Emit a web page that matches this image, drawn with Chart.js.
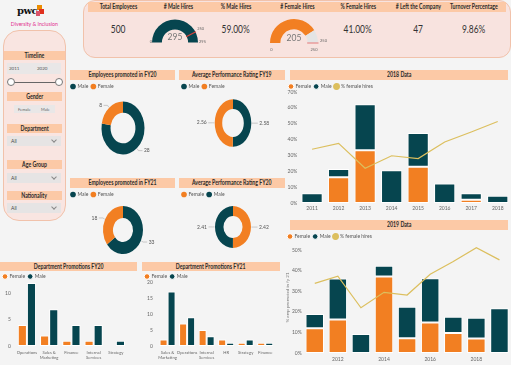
<!DOCTYPE html>
<html><head><meta charset="utf-8">
<script src="https://cdn.jsdelivr.net/npm/chart.js@4.4.0/dist/chart.umd.min.js"></script>
<style>
body{margin:0;width:511px;height:365px;background:#f4f4f4;position:relative;overflow:hidden;font-family:Lato,"Liberation Sans",Arial,sans-serif;color:#333}
.a{position:absolute}
.n{display:inline-block;transform:scaleX(0.8);transform-origin:center}
.hdr{position:absolute;background:#fcc9a6;text-align:center;font-weight:bold;font-size:6.5px;color:#2a2a2a;white-space:nowrap;overflow:hidden}
.khdr{position:absolute;top:2px;height:10px;line-height:10px;width:70px;text-align:center;font-size:6.5px;font-weight:bold;color:#2a2a2a;white-space:nowrap}
.kval{position:absolute;top:23px;width:70px;text-align:center;font-size:10.5px;color:#333}
.dd{position:absolute;left:7px;width:54px;height:10px;background:#e6e4e4;font-size:5px;line-height:10px;color:#444}
.dd span{position:absolute;left:4px}
.dd i{position:absolute;right:5px;top:2px;width:3px;height:3px;border-right:0.7px solid #888;border-bottom:0.7px solid #888;transform:rotate(45deg)}
.box{position:absolute}
</style></head>
<body>
<!-- logo -->
<div class="a" style="left:17px;top:5px;font-family:'DejaVu Serif','Liberation Serif',serif;font-weight:bold;font-size:10px;color:#111;letter-spacing:-0.5px">pwc</div>
<div class="a" style="left:37px;top:5px;width:5px;height:5px;background:#eb8c00"></div>
<div class="a" style="left:39px;top:9px;width:5px;height:5px;background:#e0301e"></div>
<div class="a" style="left:36px;top:11px;width:4px;height:5px;background:#db536a"></div>
<div class="a" style="left:3px;top:20px;width:62px;text-align:center;font-size:6.5px;color:#e2308f;white-space:nowrap"><span class="n">Diversity &amp; Inclusion</span></div>

<!-- filter panel -->
<div class="a" style="left:3px;top:30px;width:61px;height:189px;background:#f9e5e1;border:1px solid #f1c2ab;border-radius:16px"></div>
<div class="hdr" style="left:4px;top:51px;width:61px;height:9px;line-height:9px"><span class="n">Timeline</span></div>
<div class="a" style="left:7px;top:63px;width:54px;height:11px;background:#e9e7e7"></div>
<div class="a" style="left:9px;top:66px;font-size:4.5px;color:#555">2011</div>
<div class="a" style="left:37px;top:66px;font-size:4.5px;color:#555">2020</div>
<div class="a" style="left:11px;top:81.5px;width:48px;height:1px;background:#666"></div>
<div class="a" style="left:7px;top:78px;width:6px;height:6px;border-radius:50%;background:#fff;border:0.8px solid #777"></div>
<div class="a" style="left:55px;top:78px;width:6px;height:6px;border-radius:50%;background:#fff;border:0.8px solid #777"></div>
<div class="hdr" style="left:7px;top:92px;width:55px;height:9px;line-height:9px"><span class="n">Gender</span></div>
<div class="a" style="left:14px;top:105px;width:41px;height:8px;background:#e9e7e7"></div>
<div class="a" style="left:18px;top:107px;font-size:4px;color:#666">Female</div>
<div class="a" style="left:41px;top:107px;font-size:4px;color:#666">Male</div>
<div class="hdr" style="left:7px;top:124px;width:55px;height:9px;line-height:9px"><span class="n">Department</span></div>
<div class="dd" style="top:136px"><span>All</span><i></i></div>
<div class="hdr" style="left:7px;top:160px;width:55px;height:9px;line-height:9px"><span class="n">Age Group</span></div>
<div class="dd" style="top:173px"><span>All</span><i></i></div>
<div class="hdr" style="left:7px;top:191px;width:55px;height:9px;line-height:9px"><span class="n">Nationality</span></div>
<div class="dd" style="top:203px"><span>All</span><i></i></div>

<!-- KPI panel -->
<div class="a" style="left:83px;top:0px;width:426px;height:56px;background:#f8e3df;border:1px solid #f1c2ab;border-radius:12px"></div>
<div class="a" style="left:88px;top:2px;width:418px;height:10px;background:#fcc9a6"></div>
<div id="kpi"></div>
<div class="box" style="left:139.5px;top:8.5px;width:70px;height:44px"><canvas id="gM"></canvas></div>
<div class="box" style="left:259px;top:9px;width:70px;height:44px"><canvas id="gF"></canvas></div>

<!-- donut panels -->
<div class="hdr" style="left:70px;top:70px;width:105px;height:10px;line-height:10px"><span class="n">Employees promoted in FY20</span></div>
<div class="hdr" style="left:179px;top:70px;width:106px;height:10px;line-height:10px"><span class="n">Average Performance Rating FY19</span></div>
<div class="hdr" style="left:70px;top:178px;width:105px;height:10px;line-height:10px"><span class="n">Employees promoted in FY21</span></div>
<div class="hdr" style="left:179px;top:178px;width:106px;height:10px;line-height:10px"><span class="n">Average Performance Rating FY20</span></div>
<div class="box" style="left:68px;top:81px;width:110px;height:92px"><canvas id="d1"></canvas></div>
<div class="box" style="left:179px;top:81px;width:108px;height:92px"><canvas id="d2"></canvas></div>
<div class="box" style="left:68px;top:189px;width:110px;height:75px"><canvas id="d3"></canvas></div>
<div class="box" style="left:179px;top:189px;width:108px;height:75px"><canvas id="d4"></canvas></div>

<!-- year charts -->
<div class="hdr" style="left:290px;top:70px;width:218px;height:10px;line-height:10px"><span class="n">2018 Data</span></div>
<div class="box" style="left:286px;top:81px;width:225px;height:133px"><canvas id="b18"></canvas></div>
<div class="hdr" style="left:290px;top:220px;width:218px;height:10px;line-height:10px"><span class="n">2019 Data</span></div>
<div class="box" style="left:285px;top:231px;width:226px;height:134px"><canvas id="b19"></canvas></div>

<!-- dept charts -->
<div class="hdr" style="left:0px;top:262px;width:137px;height:9px;line-height:9px"><span class="n">Department Promotions FY20</span></div>
<div class="hdr" style="left:142px;top:262px;width:138px;height:9px;line-height:9px"><span class="n">Department Promotions FY21</span></div>
<div class="box" style="left:0px;top:271px;width:143px;height:94px"><canvas id="p20"></canvas></div>
<div class="box" style="left:142px;top:271px;width:143px;height:94px"><canvas id="p21"></canvas></div>

<script>
// ---------------- DATA ----------------
const kpiHeaders = ['Total Employees','# Male Hires','% Male Hires','# Female Hires','% Female Hires','# Left the Company','Turnover Percentage'];
const kpiValues = ['500','','59.00%','','41.00%','47','9.86%'];
const kpiCenters = [118,178,236,297,358,418,474];

const maleHires = 295, maleHiresMax = 295, maleHiresTarget = 250;
const femaleHires = 205, femaleHiresMax = 250, femaleHiresTarget = 250;

const promo20Labels = ['Male','Female'];
const promo20Values = [28, 8];
const perf19Labels = ['Male','Female'];
const perf19Values = [2.58, 2.56];
const promo21Labels = ['Male','Female'];
const promo21Values = [33, 18];
const perf20Labels = ['Female','Male'];
const perf20Values = [2.42, 2.41];

const years18 = ['2011','2012','2013','2014','2015','2016','2017','2018'];
const female18 = [0, 16.3, 33.3, 0, 22.8, 0, 2.0, 0];
const male18   = [6.1, 5.1, 29.0, 20.6, 21.4, 12.3, 4.1, 4.6];
const hires18  = [33.9, 37.6, 21.9, 29.8, 28.0, 38.5, 44.8, 51.4];

const years19 = ['2011','2012','2013','2014','2015','2016','2017','2018','2019'];
const female19 = [12.1, 16.3, 0, 37.2, 7.2, 14.8, 9.7, 7.0, 0];
const male19   = [6.9, 19.9, 9.2, 5.2, 15.3, 21.6, 7.9, 10.1, 21.8];
const hires19  = [33.9, 37.4, 22.0, 29.5, 28.2, 38.3, 44.5, 51.2, 45.3];

const dept20 = ['Operations', ['Sales &','Marketing'], 'Finance', ['Internal','Services'], 'Strategy'];
const deptF20 = [4, 2, 1, 1, 0];
const deptM20 = [12, 7, 4, 4, 1];
const dept21 = [['Sales &','Marketing'], 'Operations', ['Internal','Services'], 'HR', 'Strategy', 'Finance'];
const deptF21 = [2, 7, 5, 2, 1, 1];
const deptM21 = [17, 9, 3, 1, 2, 1];

// ---------------- STYLE ----------------
const FONT = 'Lato,"Liberation Sans",Arial,sans-serif';
const TEAL = '#06454f', ORANGE = '#f27f22', GOLD = '#dcbf5e', LIGHT = '#e4e4e4';

// KPI texts
const kpi = document.getElementById('kpi');
kpiHeaders.forEach((h,i)=>{
  const d=document.createElement('div'); d.className='khdr'; d.style.left=(kpiCenters[i]-35)+'px';
  d.innerHTML='<span class="n"></span>'; d.firstChild.textContent=h; kpi.appendChild(d);
  if(kpiValues[i]){const v=document.createElement('div'); v.className='kval'; v.style.left=(kpiCenters[i]-35)+'px';
    v.innerHTML='<span class="n"></span>'; v.firstChild.textContent=kpiValues[i]; kpi.appendChild(v);}
});

Chart.defaults.font.family = FONT;
Chart.defaults.font.size = 5;
Chart.defaults.color = '#666';
Chart.defaults.animation = false;
Chart.defaults.plugins.tooltip.enabled = false;
Chart.defaults.maintainAspectRatio = false;

const legendLabels = {usePointStyle:true, pointStyle:'circle', boxWidth:4, boxHeight:4, padding:3, font:{size:5}, color:'#555',
    sort:(a,b)=>a.datasetIndex-b.datasetIndex};
const legendOpts = {display:true, position:'top', align:'start', labels:legendLabels};
const barLegend = {display:true, position:'top', align:'start', maxHeight:11, labels:legendLabels};

// Elliptical donut + outside labels
const donutPlugin = {
  id:'donutx',
  beforeDatasetsDraw(chart, a, o){
    const el = chart.getDatasetMeta(0).data[0]; const c = chart.ctx;
    c.save(); c.translate(el.x, el.y); c.scale(1, o.sy||1); c.translate(-el.x, -el.y);
  },
  afterDatasetsDraw(chart, a, o){
    const c = chart.ctx; c.restore();
    const meta = chart.getDatasetMeta(0); const ds = chart.data.datasets[0]; const sy = o.sy||1;
    meta.data.forEach((el,i)=>{
      const mid=(el.startAngle+el.endAngle)/2, R=el.outerRadius;
      const cs=Math.cos(mid), sn=Math.sin(mid);
      const x1=el.x+cs*(R+0.5), y1=el.y+sn*(R+0.5)*sy;
      const x2=el.x+cs*(R+2.5), y2=el.y+sn*(R+2.5)*sy;
      const dir = cs>=0?1:-1; const x3=x2+dir*4;
      c.beginPath(); c.moveTo(x1,y1); c.lineTo(x2,y2); c.lineTo(x3,y2);
      c.strokeStyle='#aaa'; c.lineWidth=0.6; c.stroke();
      c.fillStyle='#555'; c.font='5px '+FONT; c.textAlign=dir>0?'left':'right'; c.textBaseline='middle';
      c.fillText(String(ds.data[i]), x3+dir*1.5, y2);
    });
  }
};

function donut(id, labels, values, colors, radius, cutout, sy, padBottom){
  new Chart(document.getElementById(id), {
    type:'doughnut',
    data:{labels, datasets:[{data:values, backgroundColor:colors, borderWidth:0, radius, cutout}]},
    options:{responsive:true, layout:{padding:{bottom:padBottom}},
      plugins:{legend:legendOpts, donutx:{sy}}},
    plugins:[donutPlugin]
  });
}
donut('d1', promo20Labels, promo20Values, [TEAL, ORANGE], 21.5, '58%', 1.23, 16);
donut('d2', perf19Labels, perf19Values, [TEAL, ORANGE], 18.3, '59%', 1.3, 26);
donut('d3', promo21Labels, promo21Values, [TEAL, ORANGE], 20, '50%', 1.2, 11);
donut('d4', perf20Labels, perf20Values, [ORANGE, TEAL], 18, '53%', 1.16, 17);

// Gauges
const gaugePlugin = {
  id:'gauge',
  afterDatasetsDraw(chart, a, o){
    const el = chart.getDatasetMeta(0).data[0]; const c = chart.ctx;
    const cx=el.x, cy=el.y, R=el.outerRadius, r=el.innerRadius;
    const th = -Math.PI + Math.PI*(o.target/o.max);
    c.save();
    c.beginPath(); c.moveTo(cx+Math.cos(th)*(r-0.5), cy+Math.sin(th)*(r-0.5)); c.lineTo(cx+Math.cos(th)*(R+0.5), cy+Math.sin(th)*(R+0.5));
    c.strokeStyle=o.targetColor; c.lineWidth=1.2; c.stroke();
    c.fillStyle='#666'; c.font='4px '+FONT; c.textBaseline='middle'; c.textAlign='left';
    c.fillText(String(o.target), cx+Math.cos(th)*(R+2), cy+Math.sin(th)*(R+2)-2);
    if(o.side){
      c.textAlign='right'; c.fillText('0', cx-R, cy-1);
      c.textAlign='left'; c.fillText(String(o.max), cx+R+1, cy-1);
    } else {
      c.textAlign='center'; c.fillText('0', cx-R+1.5, cy+7);
      c.fillText(String(o.max), cx+R-4, cy+7);
    }
    c.fillStyle='#777'; c.font='8.5px '+FONT; c.textAlign='center'; c.textBaseline='middle';
    c.fillText(String(o.value), cx, cy-5);
    c.restore();
  }
};
function gauge(id, value, max, target, color, targetColor, side){
  new Chart(document.getElementById(id), {
    type:'doughnut',
    data:{labels:['value','rest'], datasets:[{data:[value, max-value], backgroundColor:[color, LIGHT], borderWidth:0, radius: side?23:24, cutout:'57%'}]},
    options:{responsive:true, rotation:-90, circumference:180,
      plugins:{legend:{display:false}, gauge:{value, max, target, targetColor, side}}},
    plugins:[gaugePlugin]
  });
}
gauge('gM', maleHires, maleHiresMax, maleHiresTarget, TEAL, '#d9423a', true);
gauge('gF', femaleHires, femaleHiresMax, femaleHiresTarget, ORANGE, '#e88a8a', false);

const noGrid = {display:false, drawTicks:false, tickLength:0};

// Year charts
function yearChart(id, labels, f, m, h, max, title, alt, xpad){
  new Chart(document.getElementById(id), {
    type:'bar',
    data:{labels, datasets:[
      {label:'Female', data:f, backgroundColor:ORANGE, borderColor:'#fff', borderWidth:1, borderSkipped:false, stack:'s', categoryPercentage:0.8, barPercentage:1, order:1},
      {label:'Male', data:m, backgroundColor:TEAL, borderColor:'#fff', borderWidth:1, borderSkipped:false, stack:'s', categoryPercentage:0.8, barPercentage:1, order:1},
      {type:'line', label:'% female hires', data:h, borderColor:GOLD, backgroundColor:GOLD, borderWidth:1.2, pointRadius:0, stack:'l', order:0}
    ]},
    options:{responsive:true, layout:{padding:0},
      plugins:{legend:barLegend},
      scales:{
        x:{stacked:true, grid:noGrid, border:{display:false},
           ticks:{autoSkip:false, maxRotation:0, padding:xpad, font:{size:5}, color:'#666',
             callback: function(v,i){ return (!alt || i%2===1) ? this.getLabelForValue(v) : ''; }}},
        y:{stacked:true, min:0, max, grid:noGrid, border:{display:false},
           title:{display:!!title, text:title, font:{size:4.5}, color:'#777', padding:0},
           ticks:{stepSize:10, includeBounds:false, padding:1.5, font:{size:5}, color:'#666', callback:v=>v+'%'}}
      }}
  });
}
yearChart('b18', years18, female18, male18, hires18, 70, '', false, 2.5);
yearChart('b19', years19, female19, male19, hires19, 54, '% emp promoted in fy 21', true, 3);

// Dept charts
function deptChart(id, labels, f, m, max, padRight){
  new Chart(document.getElementById(id), {
    type:'bar',
    data:{labels, datasets:[
      {label:'Female', data:f, backgroundColor:ORANGE, borderColor:'#fff', borderWidth:1, borderSkipped:false, categoryPercentage:0.82, barPercentage:1},
      {label:'Male', data:m, backgroundColor:TEAL, borderColor:'#fff', borderWidth:1, borderSkipped:false, categoryPercentage:0.82, barPercentage:1}
    ]},
    options:{responsive:true, layout:{padding:{right:padRight, bottom:0}},
      plugins:{legend:barLegend},
      scales:{
        x:{grid:noGrid, border:{display:false}, ticks:{autoSkip:false, maxRotation:0, padding:4.5, font:{size:4.2}, color:'#666'}},
        y:{min:0, max, grid:noGrid, border:{display:false}, ticks:{stepSize:5, includeBounds:false, padding:5, font:{size:5}, color:'#666'}}
      }}
  });
}
deptChart('p20', dept20, deptF20, deptM20, 12.2, 16);
deptChart('p21', dept21, deptF21, deptM21, 20, 10);
</script>
</body></html>
